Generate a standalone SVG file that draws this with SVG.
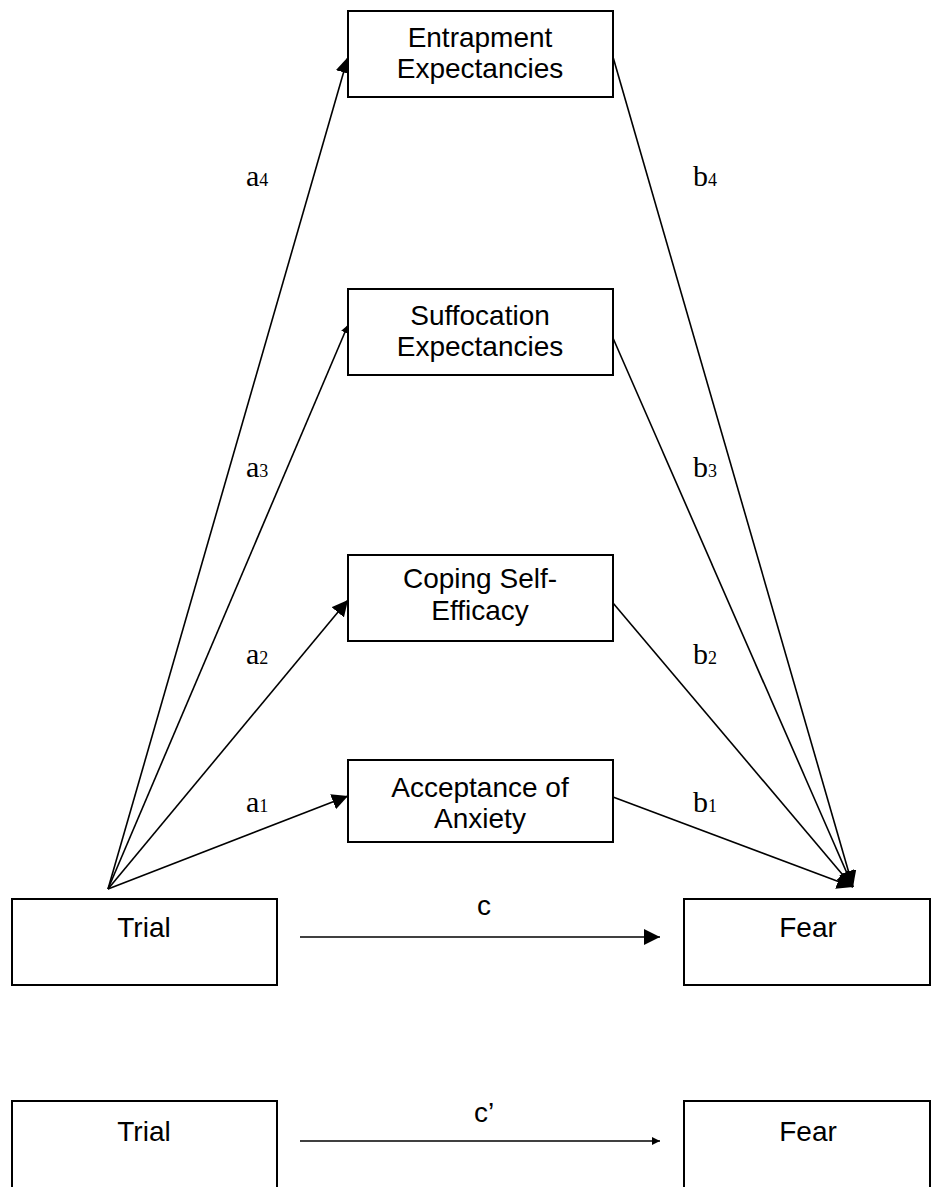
<svg xmlns="http://www.w3.org/2000/svg" width="940" height="1187" viewBox="0 0 940 1187">
<style>
.box{fill:#fff;stroke:#000;stroke-width:2}
.t{font-family:"Liberation Sans",Arial,sans-serif;font-size:28px;text-anchor:middle;fill:#000}
.l{font-family:"Liberation Serif","Times New Roman",serif;font-size:30px;fill:#000}
.s{font-size:18px}
.c{fill:none;stroke:#000;stroke-width:1.6}
</style>
<defs>
<marker id="ah" viewBox="0 0 10 10" refX="10" refY="5" markerWidth="8" markerHeight="8" markerUnits="userSpaceOnUse" orient="auto"><path d="M0,0L10,5L0,10z" fill="#000"/></marker>
<marker id="ah2" viewBox="0 0 10 10" refX="10" refY="5" markerWidth="16" markerHeight="16" markerUnits="userSpaceOnUse" orient="auto"><path d="M0,0L10,5L0,10z" fill="#000"/></marker>
</defs>
<g id="connectors">
<line class="c" x1="108" y1="889" x2="348" y2="57" marker-end="url(#ah2)"/>
<line class="c" x1="108" y1="889" x2="348" y2="325" marker-end="url(#ah)"/>
<line class="c" x1="108" y1="889" x2="348" y2="600" marker-end="url(#ah2)"/>
<line class="c" x1="108" y1="889" x2="348" y2="796" marker-end="url(#ah2)"/>
<line class="c" x1="613" y1="57" x2="853" y2="887" marker-end="url(#ah2)"/>
<line class="c" x1="613" y1="338" x2="853" y2="887" marker-end="url(#ah2)"/>
<line class="c" x1="613" y1="603" x2="853" y2="887" marker-end="url(#ah2)"/>
<line class="c" x1="613" y1="797" x2="853" y2="887" marker-end="url(#ah2)"/>
<line class="c" x1="300" y1="937" x2="660" y2="937" marker-end="url(#ah2)"/>
<line class="c" x1="300" y1="1141" x2="660" y2="1141" stroke-width="1" marker-end="url(#ah)"/>
<text class="l" x="246" y="186">a<tspan class="s">4</tspan></text>
<text class="l" x="693" y="186">b<tspan class="s">4</tspan></text>
<text class="l" x="246" y="477">a<tspan class="s">3</tspan></text>
<text class="l" x="693" y="477">b<tspan class="s">3</tspan></text>
<text class="l" x="246" y="664">a<tspan class="s">2</tspan></text>
<text class="l" x="693" y="664">b<tspan class="s">2</tspan></text>
<text class="l" x="246" y="812">a<tspan class="s">1</tspan></text>
<text class="l" x="693" y="812">b<tspan class="s">1</tspan></text>
<text class="t" x="484" y="915">c</text>
<text class="t" x="484" y="1122">c’</text>
</g>
<g id="entrapment"><rect class="box" x="348" y="11" width="265" height="86"/><text class="t" x="480" y="47">Entrapment</text><text class="t" x="480" y="78">Expectancies</text></g>
<g id="suffocation"><rect class="box" x="348" y="289" width="265" height="86"/><text class="t" x="480" y="325">Suffocation</text><text class="t" x="480" y="356">Expectancies</text></g>
<g id="coping"><rect class="box" x="348" y="555" width="265" height="86"/><text class="t" x="480" y="588">Coping Self-</text><text class="t" x="480" y="620">Efficacy</text></g>
<g id="acceptance"><rect class="box" x="348" y="760" width="265" height="82"/><text class="t" x="480" y="797">Acceptance of</text><text class="t" x="480" y="828">Anxiety</text></g>
<g id="trial1"><rect class="box" x="12" y="899" width="265" height="86"/><text class="t" x="144" y="937">Trial</text></g>
<g id="fear1"><rect class="box" x="684" y="899" width="246" height="86"/><text class="t" x="808" y="937">Fear</text></g>
<g id="trial2"><rect class="box" x="12" y="1101" width="265" height="96"/><text class="t" x="144" y="1141">Trial</text></g>
<g id="fear2"><rect class="box" x="684" y="1101" width="246" height="96"/><text class="t" x="808" y="1141">Fear</text></g>
</svg>
